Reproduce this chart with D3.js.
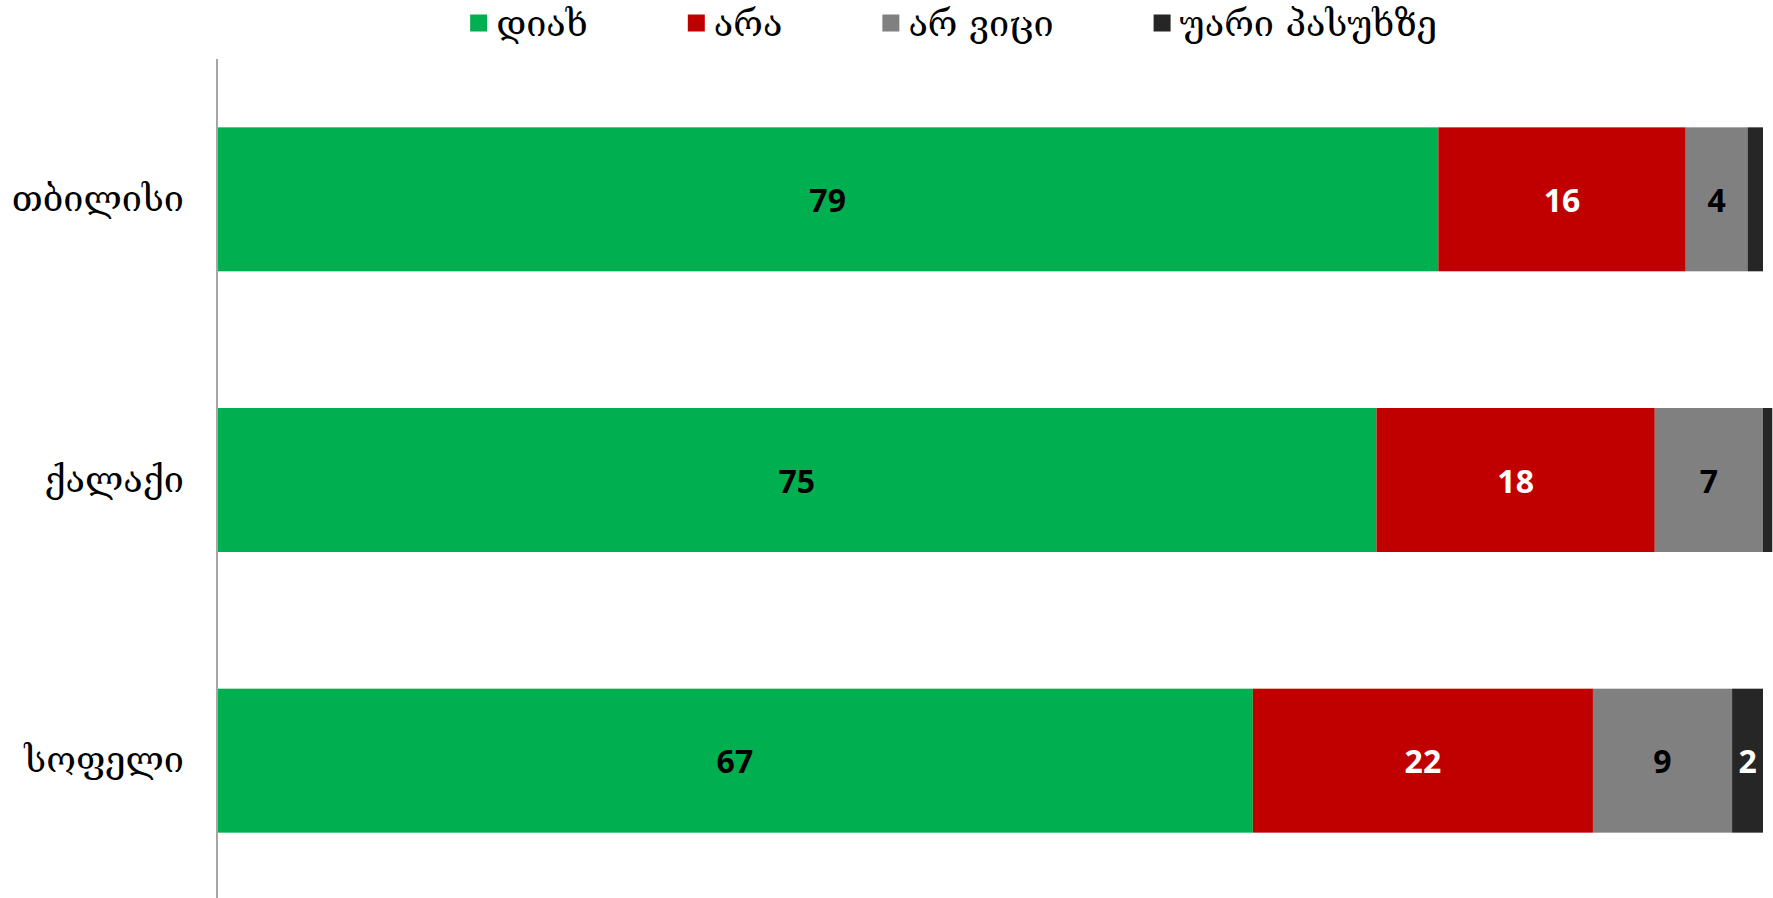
<!DOCTYPE html>
<html>
<head>
<meta charset="utf-8">
<script src="https://cdn.jsdelivr.net/npm/d3@7/dist/d3.min.js"></script>
<style>
  html, body { margin: 0; padding: 0; background: #ffffff; }
  svg { display: block; }
</style>
</head>
<body>
<svg id="chart" width="1773" height="898"></svg>
<script>
// Survey answers by settlement type (percent)
const categories = ["თბილისი", "ქალაქი", "სოფელი"];
const seriesNames = ["დიახ", "არა", "არ ვიცი", "უარი პასუხზე"];
const yesValues     = [79, 75, 67];
const noValues      = [16, 18, 22];
const dontKnow      = [4, 7, 9];
const refused       = [1, 0.6, 2];
const seriesColors  = ["#00B050", "#C00000", "#808080", "#262626"];
const labelColors   = ["#000000", "#ffffff", "#000000", "#ffffff"];

const seriesValues = [yesValues, noValues, dontKnow, refused];

const W = 1773, H = 898;
const margin = { top: 59, right: 10, bottom: -3, left: 217 };
const plotRight = 1763;

const svg = d3.select("#chart");

const rows = categories.map((c, i) => {
  const r = { category: c };
  seriesNames.forEach((s, j) => { r[s] = seriesValues[j][i]; });
  return r;
});

const stacked = d3.stack().keys(seriesNames)(rows);

const x = d3.scaleLinear().domain([0, 100]).range([margin.left, plotRight]);
const y = d3.scaleBand()
  .domain(categories)
  .range([margin.top, H - margin.bottom])
  .paddingInner(0.487)
  .paddingOuter(0.2435);

const georgianFont = "Sylfaen, 'DejaVu Serif', 'DejaVu Sans', serif";

// Stacked bars
const layer = svg.append("g")
  .selectAll("g")
  .data(stacked)
  .join("g")
  .attr("fill", (d, i) => seriesColors[i]);

layer.selectAll("rect")
  .data(d => d)
  .join("rect")
  .attr("x", d => x(d[0]))
  .attr("y", d => y(d.data.category))
  .attr("width", d => x(d[1]) - x(d[0]))
  .attr("height", y.bandwidth());

// Value labels (segments too narrow for a label are left unlabelled)
stacked.forEach((s, i) => {
  svg.append("g")
    .selectAll("text")
    .data(s.filter(d => d[1] - d[0] >= 1.5))
    .join("text")
    .attr("x", d => (x(d[0]) + x(d[1])) / 2)
    .attr("y", d => y(d.data.category) + y.bandwidth() / 2)
    .attr("text-anchor", "middle")
    .attr("dominant-baseline", "central")
    .attr("font-family", "'Open Sans', sans-serif")
    .attr("font-weight", "bold")
    .attr("font-size", 32)
    .attr("fill", labelColors[i])
    .text(d => d3.format("d")(Math.round(d[1] - d[0])));
});

// Category axis
const yAxis = d3.axisLeft(y).tickSize(0).tickPadding(33);
const gy = svg.append("g")
  .attr("transform", `translate(${margin.left},0)`)
  .call(yAxis);
gy.select(".domain")
  .attr("stroke", "#A6A6A6")
  .attr("stroke-width", 2)
  .attr("d", `M0,${margin.top}V${H + 5}`);
gy.selectAll(".tick text")
  .attr("font-family", georgianFont)
  .attr("font-size", 36)
  .attr("fill", "#000000");

// Legend
const legend = svg.append("g").attr("class", "legend");
const items = legend.selectAll("g")
  .data(seriesNames)
  .join("g");
items.append("rect")
  .attr("width", 17)
  .attr("height", 17)
  .attr("y", -8.5)
  .attr("fill", (d, i) => seriesColors[i]);
items.append("text")
  .attr("x", 26)
  .attr("dominant-baseline", "central")
  .attr("font-family", georgianFont)
  .attr("font-size", 36)
  .attr("fill", "#000000")
  .text(d => d);

let cursor = 0;
const gap = 100;
items.each(function () {
  const g = d3.select(this);
  const tw = g.select("text").node().getComputedTextLength();
  g.attr("transform", `translate(${cursor},0)`);
  cursor += 26 + tw + gap;
});
const total = cursor - gap;
legend.attr("transform", `translate(${(471 + 1436) / 2 - total / 2},23)`);
</script>
</body>
</html>
